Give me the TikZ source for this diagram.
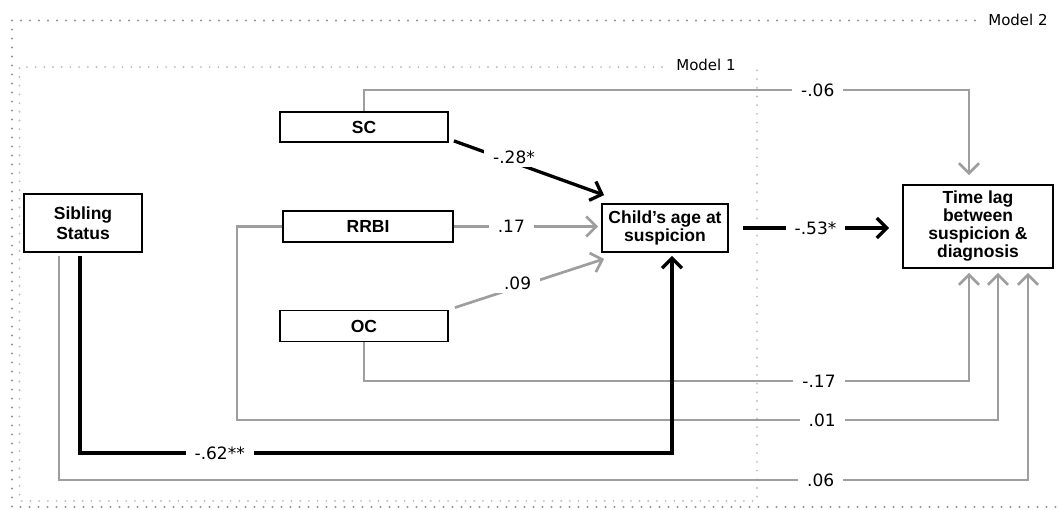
\documentclass[tikz,border=0pt]{standalone}
\usepackage{fontspec}
\setmainfont{Liberation Sans}
\newfontfamily\coeffont{DejaVu Sans}
\usepackage{xcolor}
\usetikzlibrary{arrows.meta}
\definecolor{pathgray}{HTML}{9E9E9E}
\tikzset{
  sem var/.style={draw,line width=1.8pt,inner sep=0pt,align=center,
    font=\fontsize{17.5}{18}\selectfont\bfseries},
  sem weak/.style={draw=pathgray,line width=2.7pt},
  sem strong/.style={draw=black,line width=3.3pt},
  sem tip/.style={-{Straight Barb[length=10pt,width=20pt]}},
  sem coef/.style={font=\coeffont\fontsize{17}{18}\selectfont,fill=white,
    inner xsep=9pt,inner ysep=3pt},
  sem model/.style={font=\coeffont\fontsize{15}{16}\selectfont},
  frame outer/.style={draw=gray!85,line width=2.4pt,line cap=round,
    dash pattern=on 0pt off 9pt},
  frame inner/.style={draw=gray!50,line width=2.1pt,line cap=round,
    dash pattern=on 0pt off 8.7pt}
}

\begin{document}
\begin{tikzpicture}[x=1pt,y=-1pt]
  \useasboundingbox (0,0) rectangle (1059,510);
  % model frames
  \draw[frame outer] (975,20.5) -- (12,20.5) -- (12,507) -- (1059,507);
  \node[sem model] (m2) at (1018,20) {Model 2};
  \draw[frame inner] (662,67) -- (19.5,67) -- (19.5,501) -- (757,501) -- (757,67);
  \node[sem model] (m1) at (706,65) {Model 1};

  % variables
  \node[sem var,minimum width=118pt,minimum height=58pt,
    font=\fontsize{17.5}{19.5}\selectfont\bfseries] (sib) at (83,223) {Sibling\\Status};
  \node[sem var,minimum width=168pt,minimum height=30pt] (sc) at (364,127) {SC};
  \node[sem var,minimum width=170pt,minimum height=31pt] (rrbi) at (368,226.5) {RRBI};
  \node[sem var,minimum width=126pt,minimum height=48pt] (child) at (665,228)
    {Child's age at\\suspicion};
  \node[sem var,minimum width=168pt,minimum height=31pt] (oc) at (364,326) {OC};
  \node[sem var,minimum width=150pt,minimum height=83pt] (lag) at (978,226.5)
    {Time lag\\between\\suspicion \&\\diagnosis};

  \coordinate (top rail) at (0,90);
  \coordinate (oc rail) at (0,381);
  \coordinate (rrbi rail) at (237,420);
  \coordinate (sib rail) at (0,453);
  \coordinate (outer rail) at (0,480);

  % paths to the time lag
  \draw[sem weak,sem tip,shorten >=9pt] (sc.north) |- node[sem coef,pos=0.875] {-.06}
    ([xshift=-9pt]lag.north |- top rail) -- ([xshift=-9pt]lag.north);
  \draw[sem weak,sem tip,shorten >=4pt] (oc.south) |- node[sem coef,pos=0.876] {-.17}
    ([xshift=-9pt]lag.south |- oc rail) -- ([xshift=-9pt]lag.south);
  \draw[sem weak,sem tip,shorten >=4pt] (rrbi.west) -| (rrbi rail)
    -- node[sem coef,pos=0.769] {.01} ([xshift=20pt]lag.south |- rrbi rail)
    -- ([xshift=20pt]lag.south);
  \draw[sem weak,sem tip,shorten >=4pt] ([xshift=-24pt,yshift=-3pt]sib.south)
    |- node[sem coef,pos=0.893] {.06} ([xshift=50pt]lag.south |- outer rail)
    -- ([xshift=50pt]lag.south);

  % paths to the child's age
  \draw[sem weak,sem tip,shorten >=3pt] (rrbi.east)
    -- node[sem coef,pos=0.39] {.17} (child.west |- rrbi.east);
  \draw[sem weak,sem tip] ([xshift=6pt,yshift=2pt]oc.north east)
    -- node[sem coef,pos=0.42,yshift=4pt] {.09} ([xshift=3pt,yshift=-6pt]child.south west);
  \draw[sem strong,sem tip] ([xshift=5pt,yshift=2pt]sc.south east)
    -- node[sem coef,pos=0.4,yshift=5pt] {-.28*} ([xshift=3pt,yshift=8pt]child.north west);
  \draw[sem strong,sem tip,shorten >=3pt] ([xshift=-3pt,yshift=-3pt]sib.south)
    |- node[sem coef,pos=0.618] {-.62**} ([xshift=7pt]child.south |- sib rail)
    -- ([xshift=7pt]child.south);
  \draw[sem strong,sem tip,shorten <=14pt,shorten >=13pt] (child.east)
    -- node[sem coef] {-.53*} (lag.west |- child.east);
\end{tikzpicture}
\end{document}
